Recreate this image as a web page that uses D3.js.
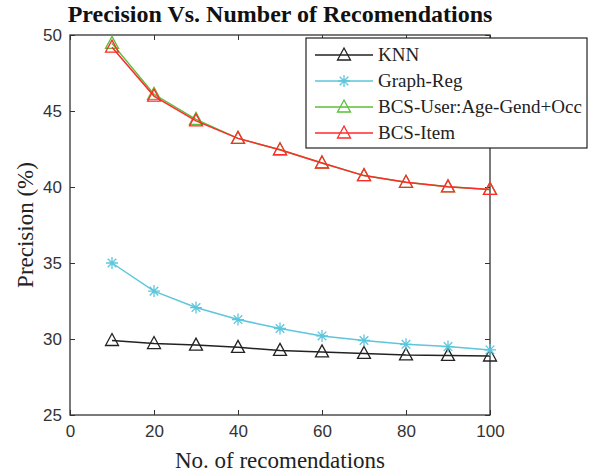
<!DOCTYPE html>
<html>
<head>
<meta charset="utf-8">
<script src="https://cdn.jsdelivr.net/npm/d3@7"></script>
<style>
  body { margin: 0; background: #fff; }
  svg { display: block; }
  .tick text { font-family: "Liberation Sans", Arial, sans-serif; font-size: 17px; fill: #333; }
  .tick line { stroke: #333; }
</style>
</head>
<body>
<script>
// data
let recs = [10, 20, 30, 40, 50, 60, 70, 80, 90, 100];
let knn = [29.9, 29.7, 29.6, 29.45, 29.25, 29.15, 29.05, 28.95, 28.92, 28.88];
let graphReg = [35.0, 33.15, 32.07, 31.28, 30.69, 30.2, 29.9, 29.65, 29.5, 29.28];
let bcsUser = [49.45, 46.1, 44.45, 43.2, 42.45, 41.58, 40.75, 40.31, 40.01, 39.84];
let bcsItem = [49.2, 45.98, 44.35, 43.2, 42.45, 41.58, 40.75, 40.31, 40.01, 39.84];
let names = ["KNN", "Graph-Reg", "BCS-User:Age-Gend+Occ", "BCS-Item"];
let xTicks = [0, 20, 40, 60, 80, 100];
let yTicks = [25, 30, 35, 40, 45, 50];

let w = 594, h = 472;
let margin = {top: 35, right: 104, bottom: 57, left: 70};
let width = w - margin.left - margin.right, height = h - margin.top - margin.bottom;

let series = [
  {name: names[0], values: knn, color: "#222222", marker: "tri"},
  {name: names[1], values: graphReg, color: "#5cc6dc", marker: "star"},
  {name: names[2], values: bcsUser, color: "#5cbf3a", marker: "tri"},
  {name: names[3], values: bcsItem, color: "#ff2a2a", marker: "tri"}
];

let svg = d3.select("body").append("svg").attr("width", w).attr("height", h);
let g = svg.append("g").attr("transform", "translate(" + margin.left + "," + margin.top + ")");

let xScale = d3.scaleLinear().domain([0, 100]).range([0, width]);
let yScale = d3.scaleLinear().domain([25, 50]).range([height, 0]);

// axes, ticks pointing inward like matlab
g.append("g")
  .attr("transform", "translate(0," + height + ")")
  .call(d3.axisBottom(xScale).tickValues(xTicks).tickSizeInner(-5).tickSizeOuter(0).tickPadding(10))
  .call(a => a.select(".domain").remove());
g.append("g")
  .call(d3.axisLeft(yScale).tickValues(yTicks).tickSizeInner(-5).tickSizeOuter(0).tickPadding(8))
  .call(a => a.select(".domain").remove());
g.append("g")
  .call(d3.axisTop(xScale).tickValues(xTicks).tickSizeInner(-5).tickSizeOuter(0).tickFormat(""))
  .call(a => a.select(".domain").remove());
g.append("g")
  .attr("transform", "translate(" + width + ",0)")
  .call(d3.axisRight(yScale).tickValues(yTicks).tickSizeInner(-5).tickSizeOuter(0).tickFormat(""))
  .call(a => a.select(".domain").remove());

g.append("rect")
  .attr("width", width).attr("height", height)
  .attr("fill", "none").attr("stroke", "#333").attr("stroke-width", 1.3);

function drawMarker(sel, type, color) {
  if (type == "tri") {
    sel.append("path").attr("d", "M0,-7L6.5,5L-6.5,5Z")
      .attr("fill", "none").attr("stroke", color).attr("stroke-width", 1.3);
  } else {
    sel.append("path").attr("d", "M-6,0H6M0,-6V6M-4.3,-4.3L4.3,4.3M-4.3,4.3L4.3,-4.3")
      .attr("fill", "none").attr("stroke", color).attr("stroke-width", 1.3);
  }
}

let line = d3.line().x((d, i) => xScale(recs[i])).y(d => yScale(d));

series.forEach(function (s) {
  g.append("path")
    .datum(s.values)
    .attr("d", line)
    .attr("fill", "none")
    .attr("stroke", s.color)
    .attr("stroke-width", 1.5);
  s.values.forEach(function (v, i) {
    let m = g.append("g").attr("transform", "translate(" + xScale(recs[i]) + "," + yScale(v) + ")");
    drawMarker(m, s.marker, s.color);
  });
});

// legend
let leg = svg.append("g").attr("transform", "translate(306,38)");
leg.append("rect").attr("width", 281).attr("height", 110)
  .attr("fill", "#fff").attr("stroke", "#222").attr("stroke-width", 1.2);
series.forEach(function (s, i) {
  let yy = 17 + i * 26;
  leg.append("line").attr("x1", 9).attr("x2", 67).attr("y1", yy).attr("y2", yy)
    .attr("stroke", s.color).attr("stroke-width", 1.5);
  let m = leg.append("g").attr("transform", "translate(38," + yy + ")");
  drawMarker(m, s.marker, s.color);
  leg.append("text").attr("x", 72).attr("y", yy + 6)
    .attr("font-family", "Liberation Serif, Times New Roman, serif")
    .attr("font-size", "19px").attr("fill", "#222")
    .text(s.name);
});

// titles
svg.append("text")
  .attr("x", margin.left + width / 2).attr("y", 22)
  .attr("text-anchor", "middle")
  .attr("font-family", "Liberation Serif, Times New Roman, serif")
  .attr("font-weight", "bold").attr("font-size", "24px").attr("fill", "#111")
  .text("Precision Vs. Number of Recomendations");
svg.append("text")
  .attr("x", margin.left + width / 2).attr("y", 468)
  .attr("text-anchor", "middle")
  .attr("font-family", "Liberation Serif, Times New Roman, serif")
  .attr("font-size", "23px").attr("fill", "#222")
  .text("No. of recomendations");
svg.append("text")
  .attr("transform", "translate(33," + (margin.top + height / 2) + ") rotate(-90)")
  .attr("text-anchor", "middle")
  .attr("font-family", "Liberation Serif, Times New Roman, serif")
  .attr("font-size", "23px").attr("fill", "#222")
  .text("Precision (%)");
</script>
</body>
</html>
